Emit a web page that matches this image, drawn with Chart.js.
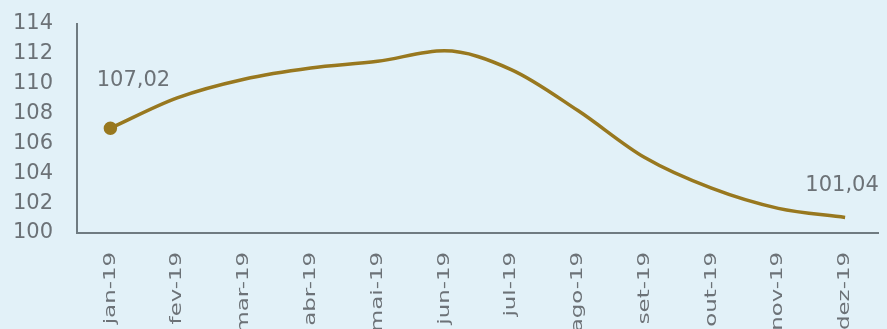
<!DOCTYPE html>
<html>
<head>
<meta charset="utf-8">
<script src="https://cdn.jsdelivr.net/npm/chart.js@4/dist/chart.umd.min.js"></script>
<style>
  html, body { margin: 0; padding: 0; background: #E2F1F8; }
  #wrap { width: 887px; height: 329px; position: relative; }
</style>
</head>
<body>
<div id="wrap"><canvas id="c"></canvas></div>
<script>
const categories = ['jan-19','fev-19','mar-19','abr-19','mai-19','jun-19','jul-19','ago-19','set-19','out-19','nov-19','dez-19'];
const indexValues = [107.02, 109.05, 110.3, 111.05, 111.5, 112.2, 110.95, 108.2, 105.05, 103.0, 101.65, 101.04];
const labelledPoints = [0, 11];
const yMin = 100, yMax = 114, yStep = 2;

const LINE = '#98781F';
const TEXT = '#6C7277';
const AXIS = '#6F7B81';

const fmt = v => v.toFixed(2).replace('.', ',');

const customLabels = {
  id: 'customLabels',
  afterDraw(chart) {
    const ctx = chart.ctx;
    const xs = chart.scales.x;
    const ys = chart.scales.y;
    ctx.save();
    ctx.fillStyle = TEXT;
    ctx.font = '16px "DejaVu Sans"';
    ctx.textAlign = 'right';
    ctx.textBaseline = 'middle';
    categories.forEach((c, i) => {
      const x = xs.getPixelForValue(i);
      ctx.save();
      ctx.translate(x, xs.top + 19);
      ctx.rotate(-Math.PI / 2);
      ctx.scale(1.43, 1);
      ctx.fillText(c, 0, 0);
      ctx.restore();
    });
    ctx.restore();
    ctx.save();
    ctx.fillStyle = TEXT;
    ctx.font = '21px "DejaVu Sans"';
    ctx.textAlign = 'center';
    ctx.textBaseline = 'middle';
    labelledPoints.forEach(i => {
      const x = xs.getPixelForValue(i);
      const y = ys.getPixelForValue(indexValues[i]);
      const dx = i === 0 ? 23 : -3;
      const dy = i === 0 ? -48 : -32;
      ctx.fillText(fmt(indexValues[i]), x + dx, y + dy);
    });
    ctx.restore();
  }
};

new Chart(document.getElementById('c'), {
  type: 'line',
  data: {
    labels: categories,
    datasets: [{
      data: indexValues,
      borderColor: LINE,
      backgroundColor: LINE,
      borderWidth: 3.5,
      tension: 0.4,
      cubicInterpolationMode: 'monotone',
      pointRadius: indexValues.map((v, i) => i === 0 ? 5 : 0),
      pointHoverRadius: 0,
      borderCapStyle: 'butt',
      fill: false
    }]
  },
  options: {
    responsive: true,
    maintainAspectRatio: false,
    animation: false,
    events: [],
    layout: { padding: { top: 24, right: 3, left: 0, bottom: 0 } },
    plugins: { legend: { display: false }, tooltip: { enabled: false } },
    scales: {
      x: {
        offset: true,
        grid: { display: false, drawTicks: false },
        border: { display: true, color: AXIS, width: 2 },
        ticks: { display: false },
        afterFit(s) { s.height = 96; s.paddingLeft = 0; s.paddingRight = 0; }
      },
      y: {
        min: yMin, max: yMax,
        grid: { display: false, drawTicks: false },
        border: { display: true, color: AXIS, width: 2 },
        ticks: {
          stepSize: yStep,
          autoSkip: false,
          padding: 24,
          color: TEXT,
          font: { family: 'DejaVu Sans', size: 21 },
          callback: v => String(v)
        },
        afterFit(s) { s.width = 77; s.paddingTop = 0; s.paddingBottom = 0; }
      }
    }
  },
  plugins: [customLabels]
});
</script>
</body>
</html>
